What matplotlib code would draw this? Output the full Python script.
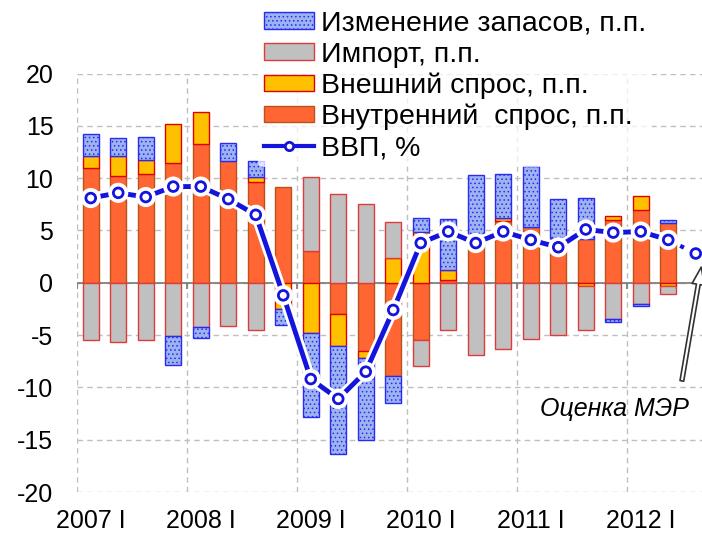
import matplotlib
matplotlib.use("Agg")
import matplotlib.pyplot as plt
import matplotlib.patheffects as pe
from matplotlib.lines import Line2D
from matplotlib.patches import Patch
import numpy as np

plt.rcParams['font.family'] = ['Liberation Sans', 'DejaVu Sans']
plt.rcParams['hatch.linewidth'] = 0.6
plt.rcParams['axes.unicode_minus'] = False

# contributions to GDP growth, p.p., 2007 Q1 .. 2012 Q2
domestic = [11.0, 10.2, 10.4, 11.5, 13.3, 11.6, 9.6, 9.2, 3.0, -3.0, -6.5, -8.9,
            -5.5, 0.25, 3.5, 5.9, 5.35, 4.3, 4.2, 6.0, 7.0, 5.7]
external = [1.1, 1.9, 1.35, 3.65, 3.05, 0, 0.5, -2.5, -4.8, -3.0, -0.7, 2.4,
            4.9, 1.0, 0, 0.3, 0, 0, -0.3, 0.4, 1.3, -0.3]
imports = [-5.5, -5.7, -5.5, -5.1, -4.2, -4.1, -4.5, 0, 7.1, 8.5, 7.5, 3.4,
           -2.5, -4.55, -6.95, -6.3, -5.4, -5.0, -4.2, -3.5, -2.0, -0.75]
inventory = [2.1, 1.7, 2.2, -2.8, -1.1, 1.8, 1.55, -1.5, -8.0, -10.4, -7.8, -2.6,
             1.3, 4.85, 6.85, 4.2, 5.85, 3.75, 3.9, -0.2, -0.2, 0.3]
gdp = [8.1, 8.6, 8.2, 9.2, 9.2, 8.0, 6.5, -1.2, -9.2, -11.1, -8.5, -2.6,
       3.8, 4.9, 3.8, 4.9, 4.1, 3.4, 5.1, 4.8, 4.9, 4.1]
gdp_estimate = 2.8  # 2012 Q3, MED estimate
year_labels = ["2007 I", "2008 I", "2009 I", "2010 I", "2011 I", "2012 I"]

labels = ["Внутренний  спрос, п.п.", "Внешний спрос, п.п.", "Импорт, п.п.",
          "Изменение запасов, п.п."]
fills = ["#FF6633", "#FFC000", "#C0C0C0", "#9DB3EE"]
edges = ["#B8541A", "#E00000", "#E03A3A", "#2A2AF5"]
hatches = [None, None, None, "...."]

n = len(domestic)
x = np.arange(n)
n_slots = n + 1  # extra slot for the estimate

fig = plt.figure(figsize=(7.02, 5.33), dpi=100)
ax = fig.add_axes([77 / 702, 41 / 533, 632.5 / 702, 418.4 / 533])

pos = np.zeros(n)
neg = np.zeros(n)
for vals, fc, ec, h in zip([domestic, external, imports, inventory], fills, edges, hatches):
    v = np.array(vals, dtype=float)
    bottom = np.where(v >= 0, pos, neg)
    m = v != 0
    ax.bar(x[m], v[m], 0.58, bottom=bottom[m], color=fc, edgecolor=ec,
           hatch=h, linewidth=1, zorder=3)
    pos += np.clip(v, 0, None)
    neg += np.clip(v, None, 0)

glow = [pe.Stroke(linewidth=7.5, foreground="white"), pe.Normal()]
line_col = "#1414DC"
ax.plot([n - 1, n], [gdp[-1], gdp_estimate], color=line_col, lw=3, ls=(0, (1, 2.2)),
        zorder=4)
ax.plot(x, gdp, color=line_col, lw=3.5, marker="o", ms=7, mfc="white", mec=line_col,
        mew=2, zorder=5, path_effects=glow)
ax.plot([n], [gdp_estimate], ls="none", marker="o", ms=7, mfc="white", mec=line_col,
        mew=2, zorder=5, path_effects=glow)

ax.axhline(0, color="#808080", lw=1.3, zorder=2)
bounds = np.arange(-0.5, n_slots + 0.5, 4)
ax.vlines(bounds, -0.6, 0, color="#808080", lw=1.3, zorder=2)

ax.set_xlim(-0.5, n_slots - 0.5)
ax.set_ylim(-20, 20)
ax.set_yticks(np.arange(-20, 21, 5))
ax.set_xticks(np.arange(0, n_slots, 4)[:len(year_labels)], year_labels)
ax.set_xticks(bounds, minor=True)
ax.tick_params(axis="both", which="both", length=0, labelsize=18)
ax.tick_params(axis="y", pad=17)
ax.tick_params(axis="x", pad=12)
ax.grid(axis="y", which="major", color="#BFBFBF", ls=(0, (4, 3)), lw=1, zorder=0)
ax.grid(axis="x", which="minor", color="#BFBFBF", ls=(0, (4, 3)), lw=1, zorder=0)
for s in ax.spines.values():
    s.set_visible(False)

ax.annotate("Оценка МЭР", xy=(22.2, 1.5), xytext=(19.05, -12.1),
            ha="center", va="center", fontsize=18, style="italic",
            arrowprops=dict(arrowstyle="simple,head_length=0.7,head_width=0.5,tail_width=0.15",
                            fc="white", ec="#333333", lw=1.2,
                            shrinkA=10, shrinkB=0, relpos=(0.93, 0.9)))

handles = [Patch(fc=fills[i], ec=edges[i], hatch=hatches[i]) for i in [3, 2, 1, 0]]
handles.append(Line2D([], [], color=line_col, lw=3, marker="o", ms=6, mfc="white",
                      mec=line_col, mew=2))
leg_labels = [labels[i] for i in [3, 2, 1, 0]] + ["ВВП, %"]
fig.legend(handles, leg_labels, loc="upper left", bbox_to_anchor=(258 / 702, 1 - 5 / 533),
           fontsize=20.5, frameon=True, framealpha=0.75, facecolor="white",
           edgecolor="none", handlelength=1.75, handleheight=0.5, handletextpad=0.25,
           labelspacing=0.17, borderpad=0.2, borderaxespad=0)

fig.savefig("out.png", dpi=100)
